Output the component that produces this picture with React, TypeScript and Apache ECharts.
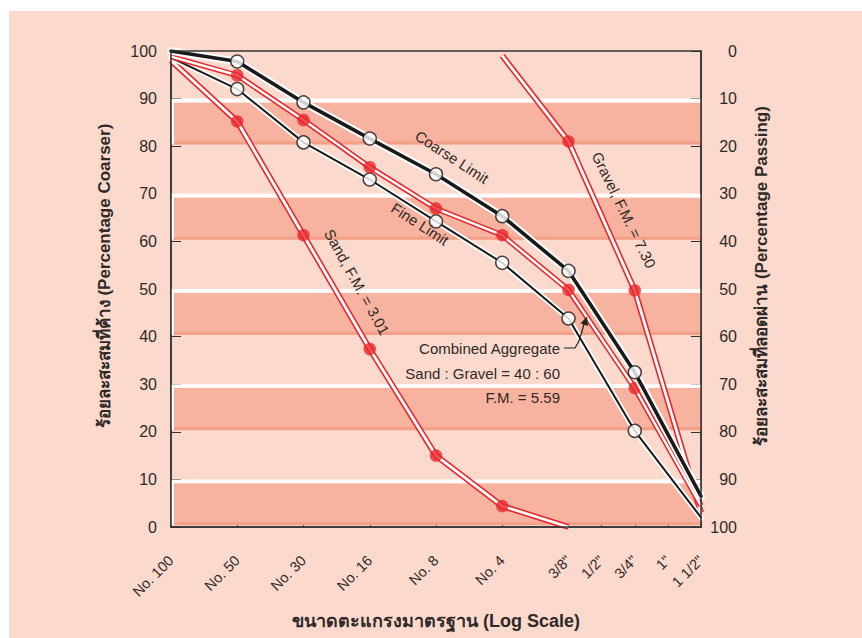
import React, { useEffect, useRef } from 'react';
import * as echarts from 'echarts';

const sieveLabels = ['No. 100', 'No. 50', 'No. 30', 'No. 16', 'No. 8', 'No. 4', '3/8"', '1/2"', '3/4"', '1"', '1 1/2"'];
const sievePos = [0, 1, 2, 3, 4, 5, 6, 6.5, 7, 7.5, 8];

const coarseLimit = [100, 97.8, 89.2, 81.6, 74.1, 65.3, 53.8, null, 32.5, null, 6.5];
const fineLimit = [98.6, 92.0, 80.8, 73.0, 64.2, 55.5, 43.8, null, 20.2, null, 2.0];
const combined = [98.8, 94.9, 85.5, 75.6, 66.9, 61.3, 49.8, null, 29.2, null, 4.5];
const sand = [98.0, 85.2, 61.3, 37.4, 15.0, 4.4, 0, null, null, null, null];
const gravel = [null, null, null, null, null, 99.0, 81.0, null, 49.7, null, 3.0];

const bandStarts = [0, 20, 40, 60, 80];

const FONT = "'Liberation Sans Narrow', 'Arial Narrow', 'Liberation Sans', 'Noto Sans', sans-serif";
const TXT = '#2f2a28';
const RED = '#e8262b';
const BG = '#fcd9cd';
const BAND = '#f7b39f';
const BAND_EDGE = '#f4a088';

type Pt = [number, number];
const pts = (arr: (number | null)[]): Pt[] =>
  arr.map((v, i) => (v == null ? null : ([sievePos[i], v] as Pt))).filter((p): p is Pt => p !== null);
const inner = (arr: (number | null)[]): Pt[] => {
  const p = pts(arr);
  return p.slice(1, p.length - 1);
};

const deg = (d: number) => (d * Math.PI) / 180;

export default function App() {
  const ref = useRef<HTMLDivElement>(null);
  useEffect(() => {
    if (!ref.current) return;
    const chart = echarts.init(ref.current, undefined, { renderer: 'svg' });

    const bandAreas: any[] = [];
    bandStarts.forEach((b) => {
      bandAreas.push([{ yAxis: b + 0.4, itemStyle: { color: BAND } }, { yAxis: b + 9.2 }]);
      bandAreas.push([{ yAxis: b + 0.35, itemStyle: { color: BAND_EDGE } }, { yAxis: b + 1.0 }]);
      bandAreas.push([{ yAxis: b + 9.2, itemStyle: { color: '#ffffff' } }, { yAxis: b + 10 }]);
      bandAreas.push([{ xAxis: 0, yAxis: b + 0.4, itemStyle: { color: '#ffffff' } }, { xAxis: 0.045, yAxis: b + 9.2 }]);
    });

    const blackLine = (name: string, arr: (number | null)[], halo: number, w: number, z: number) => [
      {
        name: name + ' halo',
        type: 'line',
        data: pts(arr),
        showSymbol: false,
        silent: true,
        z,
        lineStyle: { color: '#ffffff', width: halo, cap: 'round', join: 'round' },
      },
      {
        name,
        type: 'line',
        data: pts(arr),
        showSymbol: false,
        silent: true,
        z: z + 1,
        lineStyle: { color: '#1a1a1a', width: w, cap: 'round', join: 'round' },
      },
      {
        name: name + ' points',
        type: 'scatter',
        data: inner(arr),
        symbol: 'circle',
        symbolSize: 13,
        silent: true,
        z: z + 2,
        itemStyle: { color: '#ffffff', borderColor: '#1a1a1a', borderWidth: 1.5 },
      },
    ];

    const redLine = (name: string, arr: (number | null)[], outer: number, w: number, z: number) => [
      {
        name,
        type: 'line',
        data: pts(arr),
        showSymbol: false,
        silent: true,
        z,
        lineStyle: { color: RED, width: outer, join: 'round' },
      },
      {
        name: name + ' core',
        type: 'line',
        data: pts(arr),
        showSymbol: false,
        silent: true,
        z: z + 1,
        lineStyle: { color: '#ffffff', width: w, join: 'round' },
      },
      {
        name: name + ' points',
        type: 'scatter',
        data: inner(arr),
        symbol: 'circle',
        symbolSize: 12.5,
        silent: true,
        z: z + 2,
        itemStyle: { color: RED },
      },
    ];

    const txt = (text: string, x: number, y: number, rot: number, align = 'center', size = 15) => ({
      type: 'text',
      x,
      y,
      rotation: deg(rot),
      z: 100,
      style: {
        text,
        fill: TXT,
        fontSize: size,
        fontFamily: FONT,
        align,
        verticalAlign: 'middle',
      },
    });

    const option: any = {
      animation: false,
      backgroundColor: '#ffffff',
      textStyle: { fontFamily: FONT },
      grid: {
        left: 171,
        right: 161,
        top: 51,
        bottom: 111,
        show: true,
        borderColor: '#333',
        borderWidth: 1.5,
        backgroundColor: 'transparent',
        z: 20,
      },
      xAxis: {
        type: 'value',
        min: 0,
        max: 8,
        axisLine: { show: true, lineStyle: { color: '#333', width: 1.5 } },
        axisTick: { show: true, inside: true, length: 10, customValues: sievePos, lineStyle: { color: '#333', width: 1 } },
        axisLabel: {
          customValues: sievePos,
          rotate: 45,
          margin: 31,
          fontSize: 14.5,
          color: TXT,
          fontFamily: FONT,
          formatter: (v: number) => {
            const i = sievePos.indexOf(v);
            return i >= 0 ? sieveLabels[i] : '';
          },
        },
        splitLine: { show: false },
      },
      yAxis: [
        {
          type: 'value',
          position: 'left',
          min: 0,
          max: 100,
          interval: 10,
          axisLine: { show: true, lineStyle: { color: '#333', width: 1.5 } },
          axisTick: { show: true, inside: true, length: 10, lineStyle: { color: '#333' } },
          axisLabel: { margin: 14, fontSize: 16, color: TXT, fontFamily: FONT },
          splitLine: { show: false },
        },
        {
          type: 'value',
          position: 'right',
          min: 0,
          max: 100,
          interval: 10,
          inverse: true,
          axisLine: { show: true, lineStyle: { color: '#333', width: 1.5 } },
          axisTick: { show: true, inside: true, length: 10, lineStyle: { color: '#333' } },
          axisLabel: { margin: 36, align: 'right', fontSize: 16, color: TXT, fontFamily: FONT },
          splitLine: { show: false },
        },
      ],
      graphic: [
        {
          type: 'rect',
          shape: { x: 9, y: 11, width: 853, height: 627 },
          style: { fill: BG },
          z: -10,
          silent: true,
        },
        txt('Coarse Limit', 452, 157, -33),
        txt('Fine Limit', 420, 224, -33),
        txt('Sand, F.M. = 3.01', 357, 282, -61),
        txt('Gravel, F.M. = 7.30', 624, 210, -64),
        txt('Combined Aggregate', 560, 348, 0, 'right'),
        txt('Sand : Gravel = 40 : 60', 560, 373, 0, 'right'),
        txt('F.M. = 5.59', 560, 397, 0, 'right'),
        {
          type: 'polyline',
          z: 100,
          shape: { points: [[564, 348], [575, 348], [578.5, 342], [581.5, 333], [584, 324]] },
          style: { stroke: '#222', lineWidth: 1.2, fill: null },
        },
        {
          type: 'polygon',
          z: 100,
          shape: { points: [[587, 316.5], [588, 326], [580.5, 323.5]] },
          style: { fill: '#222' },
        },
        {
          type: 'text',
          x: 104,
          y: 276,
          rotation: deg(90),
          z: 100,
          style: {
            text: 'ร้อยละสะสมที่ค้าง (Percentage Coarser)',
            fill: TXT,
            fontSize: 17,
            fontWeight: 'bold',
            fontFamily: FONT,
            align: 'center',
            verticalAlign: 'middle',
          },
        },
        {
          type: 'text',
          x: 761,
          y: 276,
          rotation: deg(90),
          z: 100,
          style: {
            text: 'ร้อยละสะสมที่ลอดผ่าน (Percentage Passing)',
            fill: TXT,
            fontSize: 17,
            fontWeight: 'bold',
            fontFamily: FONT,
            align: 'center',
            verticalAlign: 'middle',
          },
        },
        {
          type: 'text',
          x: 436,
          y: 621,
          z: 100,
          style: {
            text: 'ขนาดตะแกรงมาตรฐาน (Log Scale)',
            fill: TXT,
            fontSize: 18,
            fontWeight: 'bold',
            fontFamily: FONT,
            align: 'center',
            verticalAlign: 'middle',
          },
        },
      ],
      series: [
        {
          name: 'bands',
          type: 'line',
          data: [],
          silent: true,
          z: 1,
          markArea: { silent: true, data: bandAreas },
        },
        ...redLine('Sand, F.M. = 3.01', sand, 6, 2.8, 3),
        ...redLine('Gravel, F.M. = 7.30', gravel, 6, 2.8, 6),
        ...blackLine('Fine Limit', fineLimit, 5.5, 2, 9),
        ...redLine('Combined Aggregate', combined, 5.5, 2.4, 12),
        ...blackLine('Coarse Limit', coarseLimit, 7.5, 3.6, 15),
      ],
    };

    chart.setOption(option);
    return () => chart.dispose();
  }, []);

  return (
    <div
      ref={ref}
      style={{ position: 'absolute', left: 0, top: 0, width: 862, height: 638 }}
    />
  );
}
